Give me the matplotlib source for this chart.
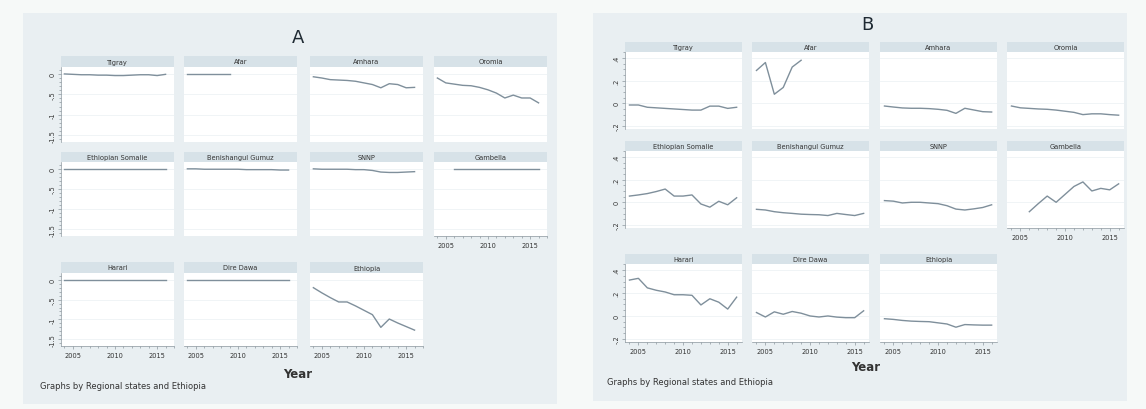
import matplotlib.pyplot as plt
import numpy as np
from matplotlib.patches import Rectangle
from matplotlib.ticker import MultipleLocator

W, H = 1146, 410

regions = ["Tigray", "Afar", "Amhara", "Oromia",
           "Ethiopian Somalie", "Benishangul Gumuz", "SNNP", "Gambella",
           "Harari", "Dire Dawa", "Ethiopia"]

years = list(range(2004, 2017))
years_afar = list(range(2004, 2010))
years_gambella = list(range(2006, 2017))

# panel A
a_tigray = [0, -0.01, -0.02, -0.02, -0.03, -0.03, -0.04, -0.04, -0.03, -0.02, -0.02, -0.04, -0.01]
a_afar = [0, 0, 0, 0, 0, 0]
a_amhara = [-0.07, -0.10, -0.14, -0.15, -0.16, -0.18, -0.22, -0.26, -0.34, -0.24, -0.26, -0.34, -0.33]
a_oromia = [-0.10, -0.22, -0.25, -0.28, -0.29, -0.33, -0.39, -0.47, -0.59, -0.52, -0.59, -0.59, -0.71]
a_somalie = [-0.01] * 13
a_benishangul = [0, 0, -0.01, -0.01, -0.01, -0.01, -0.01, -0.02, -0.02, -0.02, -0.02, -0.03, -0.03]
a_snnp = [0, -0.01, -0.01, -0.01, -0.01, -0.02, -0.02, -0.04, -0.08, -0.09, -0.09, -0.08, -0.07]
a_gambella = [0] * 11
a_harari = [0] * 13
a_diredawa = [0] * 13
a_ethiopia = [-0.20, -0.33, -0.45, -0.56, -0.56, -0.66, -0.77, -0.88, -1.20, -0.99, -1.09, -1.18, -1.27]

# panel B
b_tigray = [-0.015, -0.015, -0.035, -0.04, -0.045, -0.05, -0.055, -0.06, -0.06, -0.025, -0.025, -0.045, -0.035]
b_afar = [0.29, 0.36, 0.08, 0.14, 0.32, 0.38]
b_amhara = [-0.024, -0.033, -0.041, -0.044, -0.044, -0.047, -0.053, -0.062, -0.089, -0.044, -0.059, -0.074, -0.077]
b_oromia = [-0.024, -0.04, -0.045, -0.05, -0.053, -0.06, -0.07, -0.08, -0.10, -0.093, -0.093, -0.10, -0.105]
b_somalie = [0.055, 0.065, 0.077, 0.095, 0.117, 0.055, 0.055, 0.065, -0.015, -0.043, 0.009, -0.022, 0.04]
b_benishangul = [-0.062, -0.068, -0.083, -0.092, -0.098, -0.105, -0.108, -0.11, -0.117, -0.098, -0.108, -0.117, -0.098]
b_snnp = [0.015, 0.01, -0.006, 0, 0, -0.006, -0.012, -0.03, -0.06, -0.068, -0.058, -0.046, -0.022]
b_gambella = [-0.083, -0.012, 0.055, 0, 0.07, 0.14, 0.18, 0.10, 0.123, 0.11, 0.163]
b_harari = [0.313, 0.328, 0.245, 0.224, 0.209, 0.185, 0.185, 0.18, 0.096, 0.15, 0.12, 0.06, 0.164]
b_diredawa = [0.03, -0.009, 0.036, 0.015, 0.039, 0.024, 0, -0.009, 0, -0.01, -0.015, -0.015, 0.045]
b_ethiopia = [-0.024, -0.03, -0.039, -0.045, -0.048, -0.05, -0.06, -0.07, -0.098, -0.075, -0.078, -0.08, -0.08]

x_by_region = [years, years_afar, years, years, years, years, years, years_gambella,
               years, years, years]
series_a = [a_tigray, a_afar, a_amhara, a_oromia, a_somalie, a_benishangul, a_snnp,
            a_gambella, a_harari, a_diredawa, a_ethiopia]
series_b = [b_tigray, b_afar, b_amhara, b_oromia, b_somalie, b_benishangul, b_snnp,
            b_gambella, b_harari, b_diredawa, b_ethiopia]

a_yticks = [0, -0.5, -1, -1.5]
a_ylabels = ["0", "-.5", "-1", "-1.5"]
b_yticks = [0.4, 0.2, 0, -0.2]
b_ylabels = [".4", ".2", "0", "-.2"]
xticks = [2005, 2010, 2015]

BG = "#e9eff2"
STRIP = "#d7e2e8"
LINE = "#7f8f9b"
AXC = "#8c979e"
GRID = "#eef2f5"

fig = plt.figure(figsize=(W / 100, H / 100), dpi=100)
fig.patch.set_facecolor("#f6f9f8")


def box(x0, y0, x1, y1, color):
    fig.patches.append(Rectangle((x0 / W, 1 - y1 / H), (x1 - x0) / W, (y1 - y0) / H,
                                 transform=fig.transFigure, facecolor=color,
                                 edgecolor="none", zorder=-1))


def panel(series, letter, outer, cols, width, rows, heads, ylim, yticks, ylabels,
          yminor, xlim, letter_xy, year_xy, note_xy):
    box(*outer, BG)
    fig.text(letter_xy[0] / W, 1 - letter_xy[1] / H, letter, fontsize=13,
             ha="center", va="center", color="#1f2a33")
    for i, name in enumerate(regions):
        r, c = divmod(i, 4)
        x0 = cols[c]
        y0, y1 = rows[r]
        box(x0, heads[r][0], x0 + width, heads[r][1], STRIP)
        fig.text((x0 + width / 2) / W, 1 - (heads[r][0] + heads[r][1]) / 2 / H, name,
                 fontsize=4.8, ha="center", va="center", color="#333333")
        ax = fig.add_axes([x0 / W, 1 - y1 / H, width / W, (y1 - y0) / H])
        ax.set_zorder(1)
        ax.set_facecolor("white")
        ax.plot(x_by_region[i], series[i], color=LINE, lw=1.0)
        ax.set_xlim(*xlim)
        ax.set_ylim(*ylim)
        ax.set_yticks(yticks)
        ax.set_xticks(xticks)
        ax.yaxis.set_minor_locator(MultipleLocator(yminor))
        ax.xaxis.set_minor_locator(MultipleLocator(1))
        ax.grid(axis="y", color=GRID, lw=0.6)
        for s in ax.spines.values():
            s.set_visible(False)
        left = c == 0
        bottom = (r == 2) or (r == 1 and c == 3)
        ax.spines["left"].set_visible(left)
        ax.spines["bottom"].set_visible(bottom)
        ax.spines["left"].set_color(AXC)
        ax.spines["bottom"].set_color(AXC)
        ax.spines["left"].set_linewidth(0.5)
        ax.spines["bottom"].set_linewidth(0.5)
        ax.tick_params(which="both", colors=AXC, width=0.5, labelcolor="#333333",
                       labelsize=4.8, pad=1.5)
        ax.tick_params(which="major", length=2.5)
        ax.tick_params(which="minor", length=1.2)
        ax.tick_params(axis="y", which="both", left=left, labelleft=left)
        ax.tick_params(axis="x", which="both", bottom=bottom, labelbottom=bottom)
        if left:
            ax.set_yticklabels(ylabels, rotation=90, va="center")
    fig.text(year_xy[0] / W, 1 - year_xy[1] / H, "Year", fontsize=8.5,
             fontweight="bold", ha="center", va="center", color="#333333")
    fig.text(note_xy[0] / W, 1 - note_xy[1] / H, "Graphs by Regional states and Ethiopia",
             fontsize=6, ha="left", va="center", color="#333333")


panel(series_a, "A", (23, 14, 557, 405), [61, 184, 310, 434], 113,
      [(68, 143), (163, 237), (274, 347)], [(57, 68), (153, 163), (263, 274)],
      (-1.67, 0.17), a_yticks, a_ylabels, 0.1, (2003.6, 2017.0),
      (298, 38), (298, 375), (40, 387))

panel(series_b, "B", (593, 14, 1127, 402), [625, 752, 880, 1007], 117,
      [(53, 130), (152, 229), (265, 343)], [(43, 53), (142, 152), (255, 265)],
      (-0.227, 0.453), b_yticks, b_ylabels, 0.05, (2003.5, 2016.6),
      (867, 25), (866, 368), (607, 383))

fig.savefig("out.png", dpi=100, facecolor=fig.get_facecolor())
